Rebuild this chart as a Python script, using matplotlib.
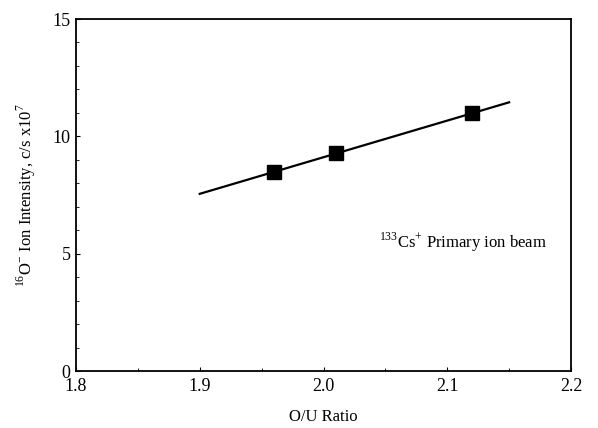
import matplotlib
matplotlib.use("Agg")
import matplotlib.pyplot as plt
from matplotlib.ticker import MultipleLocator
import numpy as np

plt.rcParams['font.family'] = ['Liberation Serif', 'DejaVu Serif']
plt.rcParams['mathtext.fontset'] = 'custom'
plt.rcParams['mathtext.rm'] = 'Liberation Serif'

ou_ratio = [1.96, 2.01, 2.12]
intensity = [8.5, 9.3, 11.0]
fit_x = [1.90, 2.15]
fit_y = [7.55, 11.45]
x_ticks = [1.8, 1.9, 2.0, 2.1, 2.2]
y_ticks = [0, 5, 10, 15]

fig = plt.figure(figsize=(5.98, 4.28), dpi=100)
ax = fig.add_axes([76/598, 1-371/428, 495/598, 352/428])
ax.plot(fit_x, fit_y, color='black', lw=1.6)
ax.plot(ou_ratio, intensity, 's', color='black', markersize=10)
ax.set_xlim(1.8, 2.2)
ax.set_ylim(0, 15)
ax.set_xticks(x_ticks)
ax.set_xticklabels([f"{v:.1f}" for v in x_ticks])
ax.set_yticks(y_ticks)
ax.xaxis.set_minor_locator(MultipleLocator(0.05))
ax.yaxis.set_minor_locator(MultipleLocator(1))
ax.tick_params(which='both', direction='in', labelsize=13, top=False, right=False)
ax.tick_params(axis='x', which='major', pad=5)
ax.tick_params(axis='y', which='major', pad=4)
ax.tick_params(which='major', length=3)
ax.tick_params(which='minor', length=2)
for s in ax.spines.values():
    s.set_linewidth(1.3)
ax.set_xlabel('O/U Ratio', fontsize=12, labelpad=10)
ax.set_ylabel(r'$^{16}$O$^{-}$ Ion Intensity, c/s x10$^{7}$', fontsize=12, labelpad=10)
ax.text(2.045, 5.5, r'$^{133}$Cs$^{+}$ Primary ion beam', fontsize=12, va='center', ha='left')
fig.savefig('out.png', dpi=100)
